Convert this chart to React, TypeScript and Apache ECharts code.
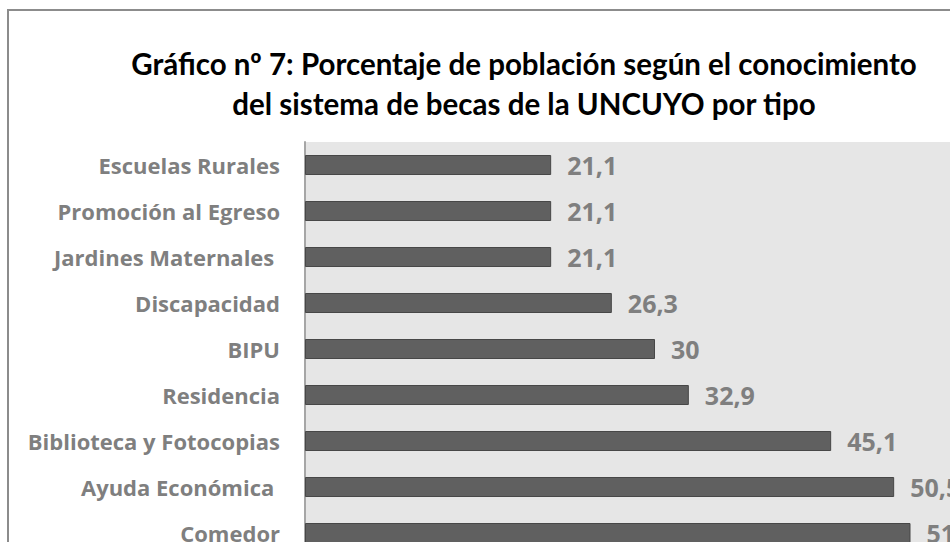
import React, { useEffect, useRef } from "react";
import * as echarts from "echarts";

const categories = [
  "Escuelas Rurales",
  "Promoción al Egreso",
  "Jardines Maternales ",
  "Discapacidad",
  "BIPU",
  "Residencia",
  "Biblioteca y Fotocopias",
  "Ayuda Económica ",
  "Comedor",
];
const values = [21.1, 21.1, 21.1, 26.3, 30, 32.9, 45.1, 50.5, 51.9];
const titleLines = [
  "Gráfico nº 7: Porcentaje de población según el conocimiento",
  "del sistema de becas de la UNCUYO por tipo",
];

export default function App() {
  const ref = useRef<HTMLDivElement>(null);
  useEffect(() => {
    document.body.style.margin = "0";
    document.body.style.overflow = "hidden";
    const chart = echarts.init(ref.current!, null, { renderer: "svg" });
    chart.setOption({
      animation: false,
      backgroundColor: "#ffffff",
      title: {
        text: titleLines.join("\n"),
        left: 524,
        top: 43,
        textAlign: "center",
        padding: 0,
        textStyle: {
          fontFamily: "Lato",
          fontWeight: "bold",
          fontSize: 29.5,
          lineHeight: 40,
          color: "#000000",
        },
      },
      graphic: [
        {
          type: "rect",
          shape: { x: 8, y: 10, width: 1200, height: 800 },
          style: { fill: "none", stroke: "#8c8c8c", lineWidth: 2 },
          z: 100,
          silent: true,
        },
      ],
      grid: {
        left: 305,
        top: 142,
        width: 700,
        height: 414,
        show: true,
        backgroundColor: "#e6e6e6",
        borderWidth: 0,
        containLabel: false,
      },
      xAxis: {
        type: "value",
        min: 0,
        max: 60,
        show: false,
        splitLine: { show: false },
      },
      yAxis: {
        type: "category",
        data: categories,
        inverse: true,
        axisLine: { show: true, lineStyle: { color: "#a6a6a6", width: 2 } },
        axisTick: { show: false },
        axisLabel: {
          margin: 25,
          fontFamily: "Open Sans",
          fontWeight: "bold",
          fontSize: 22,
          color: "#7f7f7f",
        },
      },
      series: [
        {
          type: "bar",
          data: values,
          barWidth: 20,
          itemStyle: { color: "#606060", borderColor: "#474747", borderWidth: 1 },
          label: {
            show: true,
            position: "right",
            distance: 16,
            fontFamily: "Open Sans",
            fontWeight: "bold",
            fontSize: 25,
            color: "#7f7f7f",
            formatter: (p: any) => String(p.value).replace(".", ","),
          },
        },
      ],
    });
    return () => chart.dispose();
  }, []);
  return (
    <div style={{ position: "relative", width: 950, height: 542, overflow: "hidden" }}>
      <div ref={ref} style={{ position: "absolute", left: 0, top: 0, width: 1100, height: 600 }} />
    </div>
  );
}
